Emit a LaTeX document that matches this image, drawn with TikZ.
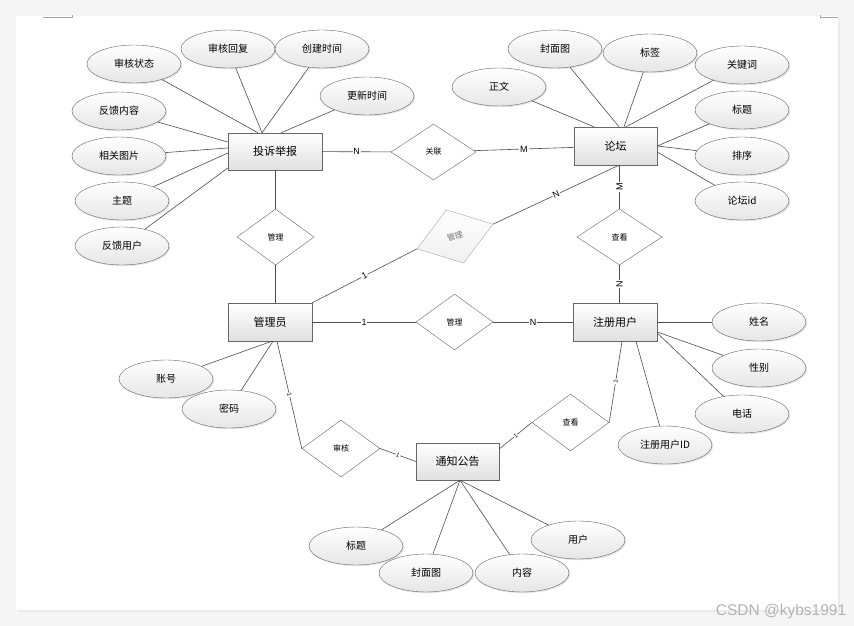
\documentclass[tikz,border=0pt]{standalone}
\usepackage{fontspec}
\newfontfamily\cjk{Noto Sans CJK SC}
\newfontfamily\lab{Liberation Sans}
\usetikzlibrary{shapes.geometric,shadows}

\begin{document}
\begin{tikzpicture}[x=1pt,y=-1pt,
    entity/.style={rectangle,draw=black!60,top color=white,bottom color=black!12,
      minimum width=84pt,minimum height=38pt,inner sep=0pt,
      font=\cjk\fontsize{11}{13}\selectfont,
      drop shadow={shadow xshift=1.2pt,shadow yshift=-1.2pt,opacity=0.25}},
    attr/.style={ellipse,draw=black!60,top color=white,bottom color=black!10,
      minimum width=94pt,minimum height=38pt,inner sep=0pt,
      font=\cjk\fontsize{10}{12}\selectfont,
      drop shadow={shadow xshift=1.2pt,shadow yshift=-1.2pt,opacity=0.2}},
    rel/.style={diamond,draw=black!60,fill=white,minimum width=78pt,
      minimum height=56pt,inner sep=0pt,font=\cjk\fontsize{8}{10}\selectfont},
    card/.style={fill=white,inner sep=0.8pt,font=\lab\fontsize{9}{10}\selectfont},
    tick/.style={fill=white,inner sep=0.5pt,font=\lab\fontsize{6}{7}\selectfont,sloped},
    link/.style={draw=black!70,line width=0.6pt}]

  % page
  \fill[black!4] (0,0) rectangle (854,626);
  \fill[black!8] (18,18) rectangle (840,612);
  \fill[white] (16,16) rectangle (838,610);
  \draw[black!35,line width=0.8pt] (43,17) -- (72,17) -- (72,15);
  \draw[black!35,line width=0.8pt] (838,17) -- (820,17) -- (820,15);

  % entities
  \node[entity,minimum width=94pt,minimum height=37pt] (ts) at (275,151.5) {投诉举报};
  \node[entity,minimum width=83pt] (fm) at (615.5,146) {论坛};
  \node[entity] (ad) at (270,322) {管理员};
  \node[entity] (ru) at (615,322) {注册用户};
  \node[entity,minimum width=83pt,minimum height=37pt] (tz) at (457.5,461.5) {通知公告};

  % relations
  \node[rel,minimum width=85pt] (gl) at (433.5,152) {关联};
  \node[rel,minimum width=77pt] (g1) at (275.5,237) {管理};
  \node[rel,minimum width=80pt,rotate=18,draw=black!35,text=black!55,
    top color=white,bottom color=black!6] (g2) at (455,236.5) {管理};
  \node[rel,minimum width=77pt] (g3) at (454.5,322) {管理};
  \node[rel,minimum width=85pt] (ck1) at (619.5,237) {查看};
  \node[rel,minimum width=77pt,minimum height=57pt] (ck2) at (570.5,422.5) {查看};
  \node[rel,minimum height=57pt] (sh) at (341,448.5) {审核};

  % attributes of 投诉举报
  \node[attr] (ts1) at (134,64) {审核状态};
  \node[attr] (ts2) at (228,49) {审核回复};
  \node[attr] (ts3) at (322,49) {创建时间};
  \node[attr] (ts4) at (367,96) {更新时间};
  \node[attr] (ts5) at (119,111) {反馈内容};
  \node[attr] (ts6) at (119,156) {相关图片};
  \node[attr] (ts7) at (122,201) {主题};
  \node[attr] (ts8) at (122,246) {反馈用户};

  % attributes of 论坛
  \node[attr] (fm1) at (499,87) {正文};
  \node[attr] (fm2) at (555,49) {封面图};
  \node[attr] (fm3) at (650,53) {标签};
  \node[attr] (fm4) at (742,65) {关键词};
  \node[attr] (fm5) at (742,110) {标题};
  \node[attr] (fm6) at (742,156) {排序};
  \node[attr] (fm7) at (742,201) {论坛id};

  % attributes of 注册用户
  \node[attr] (ru1) at (759,322) {姓名};
  \node[attr] (ru2) at (759,368) {性别};
  \node[attr] (ru3) at (742,414) {电话};
  \node[attr] (ru4) at (665,445) {注册用户ID};

  % attributes of 管理员
  \node[attr] (ad1) at (166,379) {账号};
  \node[attr] (ad2) at (229,409) {密码};

  % attributes of 通知公告
  \node[attr] (tz1) at (356,546) {标题};
  \node[attr] (tz2) at (426,573) {封面图};
  \node[attr] (tz3) at (522,573) {内容};
  \node[attr] (tz4) at (578,540) {用户};

  \begin{scope}[link]
    % attribute lines
    \draw (ts1) -- ([xshift=-17pt]ts.north);
    \draw (ts2) -- ([xshift=-13pt]ts.north);
    \draw (ts3) -- ([xshift=-13pt]ts.north);
    \draw (ts4) -- ([xshift=6pt]ts.north);
    \draw (ts5) -- ([yshift=9.5pt]ts.west);
    \draw (ts6) -- ([yshift=3.5pt]ts.west);
    \draw (ts7) -- ([yshift=-1.5pt]ts.west);
    \draw (ts8) -- ([yshift=-16.5pt]ts.west);
    \draw (fm1) -- ([xshift=-21.5pt]fm.north);
    \draw (fm2) -- ([xshift=3.5pt]fm.north);
    \draw (fm3) -- ([xshift=8.5pt]fm.north);
    \draw (fm4) -- ([xshift=10.5pt]fm.north);
    \draw (fm5) -- (fm.east);
    \draw (fm6) -- (fm.east);
    \draw (fm7) -- ([yshift=-6pt]fm.east);
    \draw (ru1) -- (ru.east);
    \draw (ru2) -- ([yshift=-10pt]ru.east);
    \draw (ru3) -- ([yshift=-11pt]ru.east);
    \draw (ru4) -- ([xshift=21pt]ru.south);
    \draw (ad1) -- ([xshift=2pt]ad.south);
    \draw (ad2) -- ([xshift=3pt]ad.south);
    \draw (tz1) -- ([xshift=2.5pt]tz.south);
    \draw (tz2) -- ([xshift=2.5pt]tz.south);
    \draw (tz3) -- ([xshift=2.5pt]tz.south);
    \draw (tz4) -- ([xshift=2.5pt]tz.south);

    % relation lines
    \draw (ts) -- node[card]{N} (gl);
    \draw (gl) -- node[card]{M} (fm);
    \draw (g1.north) -- (g1.north |- ts.south);
    \draw (g1.south) -- (g1.south |- ad.north);
    \draw (ad.north east) -- node[card,sloped]{1} (g2.west);
    \draw (g2.east) -- node[card,sloped]{N} ([xshift=3.5pt]fm.south);
    \draw (ck1.north) -- node[card,rotate=90]{M} (ck1.north |- fm.south);
    \draw (ck1.south) -- node[card,rotate=90]{N} (ck1.south |- ru.north);
    \draw (ad) -- node[card]{1} (g3);
    \draw (g3) -- node[card]{N} (ru);
    \draw ([xshift=7pt]ad.south) -- node[tick]{1} (sh.west);
    \draw (sh.east) -- node[tick]{1} (tz.west);
    \draw ([yshift=12.5pt]tz.east) -- node[tick]{1} (ck2.west);
    \draw (ck2.east) -- node[tick]{1} ([xshift=7pt]ru.south);
  \end{scope}

  % watermark
  \node[text=black!30,font=\lab\fontsize{15.5}{17}\selectfont] (wm) at (781,611) {CSDN @kybs1991};
\end{tikzpicture}
\end{document}
